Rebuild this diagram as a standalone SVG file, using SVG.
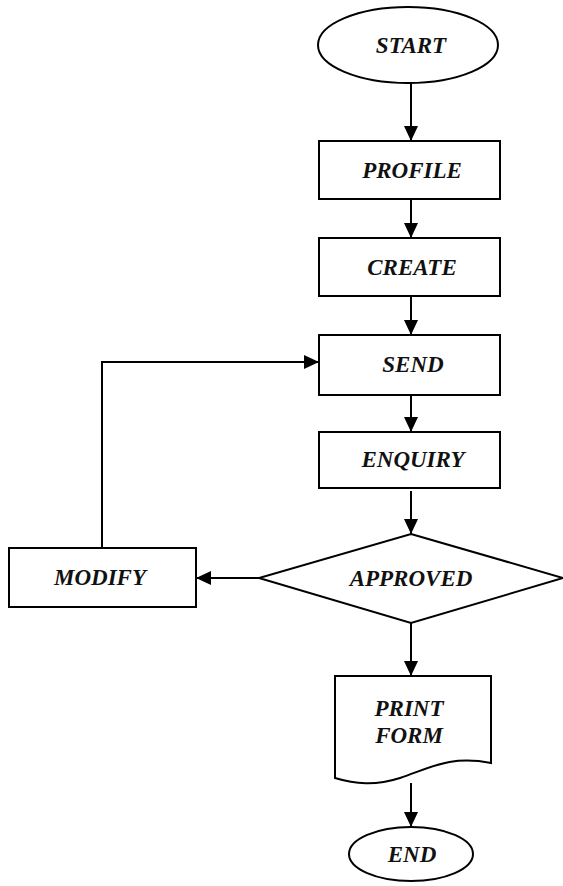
<svg xmlns="http://www.w3.org/2000/svg" width="563" height="886" viewBox="0 0 563 886">
<style>
.s{fill:#fff;stroke:#000;stroke-width:2}
.t{font-family:"Liberation Serif","Times New Roman",serif;font-weight:bold;font-style:italic;font-size:23px;fill:#111;text-anchor:middle}
.c{fill:none;stroke:#000;stroke-width:2}
</style>
<defs>
<marker id="ah" viewBox="0 0 15 14" refX="15" refY="7" markerWidth="15" markerHeight="14" markerUnits="userSpaceOnUse" orient="auto">
<path d="M0,0 L15,7 L0,14 z" fill="#000"/>
</marker>
</defs>
<rect width="563" height="886" fill="#fff"/>
<g id="connectors">
<line class="c" x1="411" y1="83" x2="411" y2="141" marker-end="url(#ah)"/>
<line class="c" x1="411" y1="199" x2="411" y2="238" marker-end="url(#ah)"/>
<line class="c" x1="411" y1="296" x2="411" y2="335" marker-end="url(#ah)"/>
<line class="c" x1="411" y1="395" x2="411" y2="432" marker-end="url(#ah)"/>
<line class="c" x1="411" y1="491" x2="411" y2="534" marker-end="url(#ah)"/>
<line class="c" x1="411" y1="623" x2="411" y2="676" marker-end="url(#ah)"/>
<line class="c" x1="411" y1="783" x2="411" y2="827" marker-end="url(#ah)"/>
<line class="c" x1="259" y1="578" x2="196" y2="578" marker-end="url(#ah)"/>
<polyline class="c" points="102,548 102,362 319,362" marker-end="url(#ah)"/>
</g>
<g id="start">
<ellipse class="s" cx="408" cy="45" rx="90" ry="38" stroke-width="1.5"/>
<text class="t" x="411" y="53">START</text>
</g>
<g id="profile">
<rect class="s" x="319" y="141" width="181" height="58"/>
<text class="t" x="412" y="178">PROFILE</text>
</g>
<g id="create">
<rect class="s" x="319" y="238" width="181" height="58"/>
<text class="t" x="412" y="275">CREATE</text>
</g>
<g id="send">
<rect class="s" x="319" y="335" width="181" height="60"/>
<text class="t" x="413" y="372">SEND</text>
</g>
<g id="enquiry">
<rect class="s" x="319" y="432" width="181" height="56"/>
<text class="t" x="413" y="467">ENQUIRY</text>
</g>
<g id="approved">
<polygon class="s" points="411,534 563,578 411,623 259,578" stroke-width="1.5"/>
<text class="t" x="411" y="586">APPROVED</text>
</g>
<g id="modify">
<rect class="s" x="9" y="548" width="187" height="59"/>
<text class="t" x="100" y="585">MODIFY</text>
</g>
<g id="printform">
<path class="s" d="M335,676 L491,676 L491,763 C450,755 430,768 400,778 C375,786 355,784 335,778 Z" stroke-width="1.5"/>
<text class="t" x="409" y="716">PRINT</text>
<text class="t" x="409" y="743">FORM</text>
</g>
<g id="end">
<ellipse class="s" cx="411" cy="854" rx="62" ry="27" stroke-width="1.5"/>
<text class="t" x="412" y="862">END</text>
</g>
</svg>
